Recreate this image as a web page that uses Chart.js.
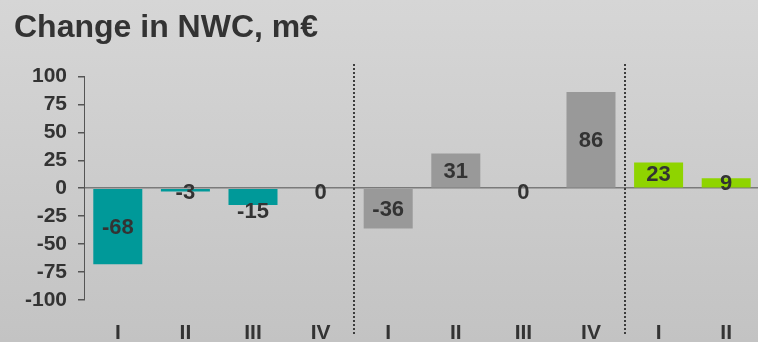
<!DOCTYPE html>
<html>
<head>
<meta charset="utf-8">
<title>Change in NWC</title>
<script src="https://cdn.jsdelivr.net/npm/chart.js@4/dist/chart.umd.min.js"></script>
<style>
  html, body { margin: 0; padding: 0; width: 758px; height: 342px; overflow: hidden; }
  body { background: linear-gradient(to bottom, #d6d6d6 0%, #c3c3c3 100%); }
  canvas { display: block; }
</style>
</head>
<body>
<canvas id="nwc" width="760" height="342"></canvas>
<script>
// Quarterly change in net working capital, million euro
const quarters = ['I', 'II', 'III', 'IV', 'I', 'II', 'III', 'IV', 'I', 'II'];
const nwcChange = [-68, -3, -15, 0, -36, 31, 0, 86, 23, 9];
const yTicks = [-100, -75, -50, -25, 0, 25, 50, 75, 100];
// number of quarters in each year block
const yearSizes = [4, 4, 2];

const yearColors = ['#009999', '#999999', '#8fd400'];
const barColors = [];
yearSizes.forEach((n, i) => { for (let k = 0; k < n; k++) barColors.push(yearColors[i]); });

const FONT = "'Liberation Sans', Arial, sans-serif";
const TEXT = '#333333';

// vertical nudges for value labels that sit on short bars
const labelNudge = { 1: 2, 2: 14, 3: 4, 6: 4, 8: -1 };

const valueLabels = {
  id: 'valueLabels',
  afterDatasetsDraw(chart) {
    const { ctx } = chart;
    const meta = chart.getDatasetMeta(0);
    ctx.save();
    ctx.font = 'bold 22px ' + FONT;
    ctx.fillStyle = TEXT;
    ctx.textAlign = 'center';
    ctx.textBaseline = 'middle';
    meta.data.forEach((bar, i) => {
      const y = (bar.y + bar.base) / 2 + (labelNudge[i] || 0);
      ctx.fillText(String(nwcChange[i]), bar.x, y + 1);
    });
    ctx.restore();
  }
};

// dotted separators between the year blocks
const yearDividers = {
  id: 'yearDividers',
  afterDraw(chart) {
    const { ctx } = chart;
    const x = chart.scales.x;
    ctx.save();
    ctx.strokeStyle = '#3c3c3c';
    ctx.lineWidth = 2;
    ctx.setLineDash([2, 2]);
    let idx = 0;
    for (let b = 0; b < yearSizes.length - 1; b++) {
      idx += yearSizes[b];
      const px = Math.round((x.getPixelForValue(idx - 1) + x.getPixelForValue(idx)) / 2);
      ctx.beginPath();
      ctx.moveTo(px, 64);
      ctx.lineTo(px, 334);
      ctx.stroke();
    }
    ctx.restore();
  }
};

new Chart(document.getElementById('nwc'), {
  type: 'bar',
  data: {
    labels: quarters,
    datasets: [{
      data: nwcChange,
      backgroundColor: barColors,
      borderWidth: 0,
      barPercentage: 0.725,
      categoryPercentage: 1
    }]
  },
  options: {
    responsive: false,
    animation: false,
    devicePixelRatio: 1,
    layout: { padding: { left: 14, top: 0, right: 0, bottom: 0 } },
    plugins: {
      legend: { display: false },
      tooltip: { enabled: false },
      title: {
        display: true,
        text: 'Change in NWC, m€',
        align: 'start',
        color: TEXT,
        font: { family: FONT, size: 32, weight: 'bold' },
        padding: { top: 9, bottom: 29 }
      }
    },
    scales: {
      x: {
        grid: { display: false },
        border: { display: false },
        ticks: {
          color: TEXT,
          font: { family: FONT, size: 21, weight: 'bold' },
          padding: 13,
          maxRotation: 0,
          autoSkip: false
        },
        afterFit(scale) { scale.height = 42; }
      },
      y: {
        min: -100,
        max: 100,
        afterBuildTicks(scale) { scale.ticks = yTicks.map(v => ({ value: v })); },
        grid: {
          color: c => (c.tick && c.tick.value === 0 ? '#7a7a7a' : 'rgba(0,0,0,0)'),
          lineWidth: 1.5,
          tickColor: '#555555',
          tickLength: 6,
          drawTicks: true
        },
        border: { display: true, color: '#555555', width: 1 },
        ticks: {
          color: TEXT,
          font: { family: FONT, size: 21, weight: 'bold' },
          padding: 11,
          autoSkip: false
        },
        afterFit(scale) { scale.width = 70; }
      }
    }
  },
  plugins: [valueLabels, yearDividers]
});
</script>
</body>
</html>
